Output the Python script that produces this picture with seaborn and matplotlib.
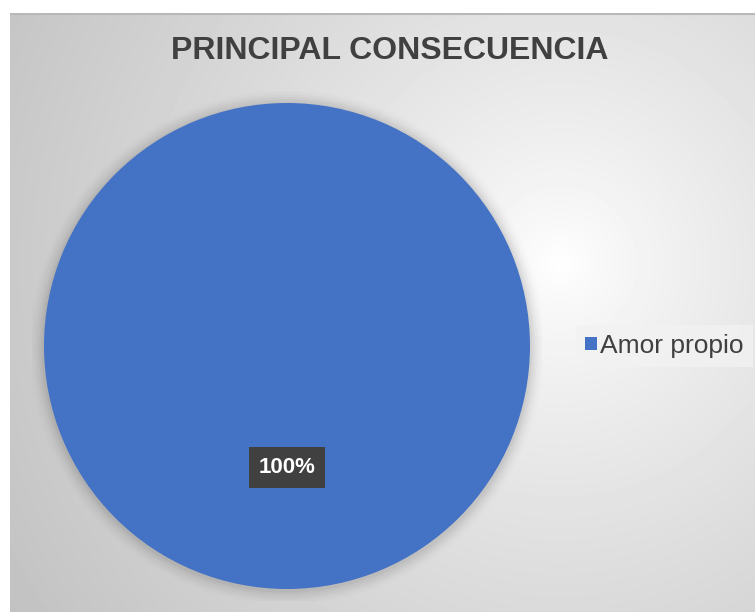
import numpy as np
import matplotlib
matplotlib.use("Agg")
import matplotlib.pyplot as plt
import seaborn as sns
from matplotlib.patches import Patch, Circle

sns.set_style("white")
plt.rcParams['font.family'] = ['Liberation Sans', 'DejaVu Sans']

# data
categories = ["Amor propio"]
values = [100]
colors = ["#4472C4"]
title = "PRINCIPAL CONSECUENCIA"

W, H = 755, 612
fig = plt.figure(figsize=(W / 100, H / 100), dpi=100)
fig.patch.set_facecolor("white")

# gradient background of the chart area
bg = fig.add_axes([10 / W, 0, (W - 10) / W, (H - 13) / H])
bg.set_axis_off()
xx, yy = np.meshgrid(np.arange(W - 10), np.arange(H - 13))
d = np.sqrt((xx - 550) ** 2 + (yy - 250) ** 2)
g = 1.0 - 0.225 * np.clip(d / 600, 0, 1.1) ** 0.8
bg.imshow(g, cmap="gray", vmin=0, vmax=1, aspect="auto", interpolation="bilinear")
bg.axhline(0, color="#b8b8b8", lw=1.5)

# pie
cx, cy, r = 287, 346, 243
ax = fig.add_axes([0, 0, 1, 1])
ax.set_facecolor("none")

# soft shadow
for i, a in enumerate(np.linspace(0.035, 0.008, 6)):
    ax.add_patch(Circle((0.0, -0.005), 1.0 + 0.01 * (i + 1), color="black", alpha=a, lw=0))

wedges, texts, autotexts = ax.pie(
    values, colors=colors, startangle=90, counterclock=False,
    autopct=lambda p: f"{p:.0f}%", pctdistance=0.5, radius=1,
    textprops=dict(color="white", fontsize=16, fontweight="bold"),
    wedgeprops=dict(linewidth=0),
)
for t in autotexts:
    t.set_bbox(dict(boxstyle="square,pad=0.45", facecolor="#404040", edgecolor="none"))
ax.set_xlim(-1.05, 1.05)
ax.set_ylim(-1.05, 1.05)
ax.set_aspect("equal")
ax.set_axis_off()
ax.set_position([(cx - r * 1.05) / W, (H - cy - r * 1.05) / H, 2 * r * 1.05 / W, 2 * r * 1.05 / H])

fig.text(389.5 / W, 1 - 51 / H, title, ha="center", va="center",
         fontsize=23, fontweight="bold", color="#404040")

handles = [Patch(facecolor=c, edgecolor="none") for c in colors]
leg = fig.legend(handles, categories, loc="center left",
                 bbox_to_anchor=(563 / W, 1 - 346 / H), frameon=True,
                 fontsize=19, handlelength=0.42, handleheight=0.42,
                 handletextpad=0.15, borderpad=0.35, fancybox=False)
leg.get_frame().set_facecolor("#f2f2f2")
leg.get_frame().set_edgecolor("none")
for t in leg.get_texts():
    t.set_color("#404040")

fig.savefig("out.png", dpi=100)
